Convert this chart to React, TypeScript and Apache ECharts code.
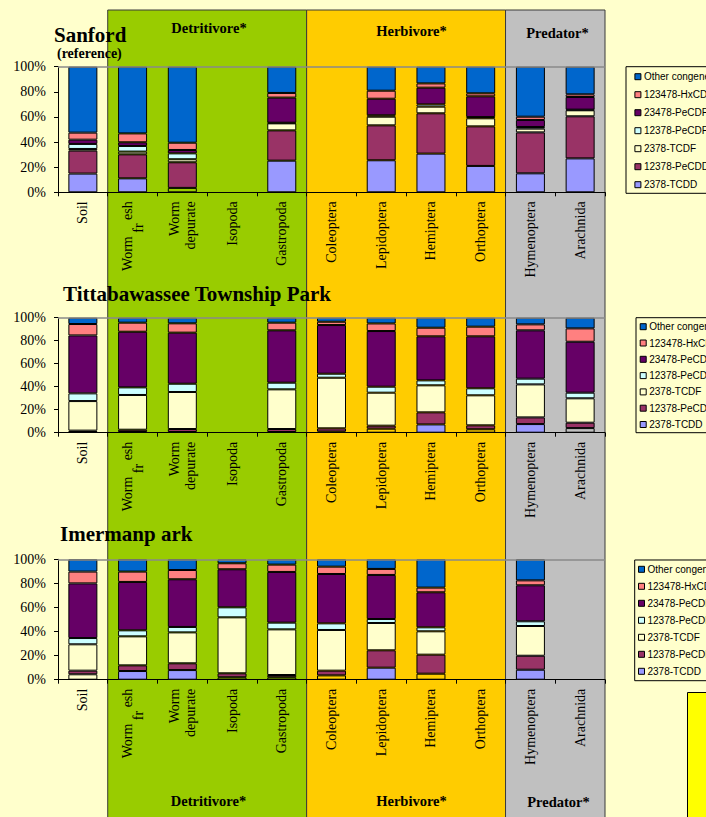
import React, { useEffect, useRef } from "react";
import * as echarts from "echarts";

// ---------- data ----------
const categories = [
  "Soil", "Worm fresh", "Worm depurate", "Isopoda", "Gastropoda",
  "Coleoptera", "Lepidoptera", "Hemiptera", "Orthoptera", "Hymenoptera", "Arachnida",
];
const congeners = [
  "2378-TCDD", "12378-PeCDD", "2378-TCDF", "12378-PeCDF",
  "23478-PeCDF", "123478-HxCDF", "Other congeners",
];
const yTicks = [0, 20, 40, 60, 80, 100];

const groups = ["Detritivore*", "Herbivore*", "Predator*"];
const groupFirst = [1, 5, 9];
const groupLast = [4, 8, 10];

const siteTitles = ["Sanford", "Tittabawassee Township Park", "Imermanp ark"];
const siteSubtitle = "(reference)";

// Sanford (reference) — percent of TEQ
const sanTCDD = [14.9, 11.1, 3.5, null, 25.2, null, 25.5, 30.8, 21.0, 15.1, 27.0];
const sanPeCDD = [18.3, 19.1, 20.4, null, 24.1, null, 27.8, 32.1, 31.5, 32.6, 33.5];
const sanTCDF = [1.3, 2.2, 2.4, null, 5.6, null, 6.9, 5.3, 6.4, 3.0, 4.8];
const san12PeCDF = [4.0, 4.5, 4.7, null, 0.5, null, 1.1, 1.8, 1.0, 1.3, 0.5];
const san23PeCDF = [3.4, 2.9, 2.7, null, 20.0, null, 13.2, 13.3, 16.5, 5.6, 10.1];
const sanHxCDF = [5.6, 7.1, 5.8, null, 3.7, null, 6.4, 3.4, 2.4, 2.6, 2.1];
const sanOther = [52.5, 53.1, 60.5, null, 20.9, null, 19.1, 13.3, 21.2, 39.8, 22.0];
const sanTCDDHidden = [false, false, true, false, false, false, false, false, false, false, false];

// Tittabawassee Township Park
const titTCDD = [0.6, 0.6, 0.6, null, 0.6, 1.0, 3.5, 7.2, 3.0, 7.5, 4.0];
const titPeCDD = [1.2, 2.0, 2.6, null, 2.6, 2.8, 2.6, 10.5, 3.4, 5.8, 4.7];
const titTCDF = [25.7, 30.2, 32.2, null, 34.5, 44.0, 28.7, 23.5, 26.1, 28.7, 21.2];
const tit12PeCDF = [6.7, 6.6, 7.2, null, 5.8, 3.5, 5.2, 4.3, 6.1, 5.0, 4.9];
const tit23PeCDF = [50.4, 48.4, 44.4, null, 45.5, 42.3, 48.4, 38.3, 45.2, 42.0, 44.3];
const titHxCDF = [9.9, 7.9, 8.1, null, 6.7, 2.9, 6.6, 7.5, 8.4, 5.2, 11.6];
const titOther = [5.5, 4.3, 4.9, null, 4.3, 3.5, 5.0, 8.7, 7.8, 5.8, 9.3];
const titTCDDHidden = [false, false, false, false, false, false, true, false, true, false, true];

// Imerman park
const imeTCDD = [4.5, 7.2, 8.0, 2.0, 2.0, 3.6, 10.0, 5.0, null, 8.3, null];
const imePeCDD = [3.0, 4.7, 5.6, 3.3, 1.9, 3.9, 14.4, 15.8, null, 11.6, null];
const imeTCDF = [21.9, 24.1, 25.7, 46.5, 37.9, 33.8, 22.7, 19.4, null, 24.7, null];
const ime12PeCDF = [5.2, 5.0, 4.5, 8.3, 5.6, 5.5, 3.3, 3.3, null, 3.9, null];
const ime23PeCDF = [45.4, 40.2, 39.6, 31.6, 42.1, 41.0, 36.6, 29.1, null, 29.9, null];
const imeHxCDF = [9.8, 8.6, 7.7, 5.0, 6.1, 6.1, 5.0, 3.9, null, 4.1, null];
const imeOther = [10.2, 10.2, 8.9, 3.3, 4.4, 6.1, 8.0, 23.5, null, 17.5, null];
const imeTCDDHidden = [true, false, false, true, true, true, false, true, false, false, false];

const siteSeries = [
  [sanTCDD, sanPeCDD, sanTCDF, san12PeCDF, san23PeCDF, sanHxCDF, sanOther],
  [titTCDD, titPeCDD, titTCDF, tit12PeCDF, tit23PeCDF, titHxCDF, titOther],
  [imeTCDD, imePeCDD, imeTCDF, ime12PeCDF, ime23PeCDF, imeHxCDF, imeOther],
];
const siteHidden = [sanTCDDHidden, titTCDDHidden, imeTCDDHidden];

// ---------- styles / layout ----------
const COLORS = ["#9999FF", "#993366", "#FFFFCC", "#CCFFFF", "#660066", "#FF8080", "#0066CC"];
const BAND_COLORS = ["#99CC00", "#FFCC00", "#C0C0C0"];
const PAGE_BG = "#FFFFCC";
const SERIF = '"Liberation Serif", "Times New Roman", serif';
const SANS = '"Liberation Sans", Arial, sans-serif';
const PLOT_LEFT = 58;
const PLOT_RIGHT = 605;
const PLOT_W = PLOT_RIGHT - PLOT_LEFT;
const CAT_W = PLOT_W / categories.length;
const PANELS = [
  { top: 66.7, height: 125.6, title: { x: 54, y: 35 }, legend: { left: 626, top: 66.7, gap: 6, pad: [4, 40, 2.6, 8.4] } },
  { top: 317.7, height: 115, title: { x: 63, y: 293.5 }, legend: { left: 636, top: 317.7, gap: 4.3, pad: [3, 40, 2.2, 3.7] } },
  { top: 559.3, height: 120.4, title: { x: 60, y: 534 }, legend: { left: 634.7, top: 560, gap: 5, pad: [3.3, 40, 3.4, 3.3] } },
];
const GROUP_TOP_LABEL = [{ x: 209, y: 28 }, { x: 411.5, y: 30.5 }, { x: 557.5, y: 32.5 }];
const GROUP_BOTTOM_LABEL = [{ x: 208.5, y: 801 }, { x: 411.5, y: 801 }, { x: 558.5, y: 801.5 }];

function textEl(text: string, x: number, y: number, font: string, align = "left") {
  return {
    type: "text",
    x,
    y,
    z: 20,
    silent: true,
    style: {
      text,
      font,
      fill: "#000",
      align,
      textAlign: align,
      verticalAlign: "middle",
      textVerticalAlign: "middle",
    },
  };
}

function buildOption() {
  const grids = PANELS.map((p) => ({ left: PLOT_LEFT, width: PLOT_W, top: p.top, height: p.height }));

  const xAxes = PANELS.map((_, i) => ({
    type: "category",
    gridIndex: i,
    data: categories,
    axisLine: { show: true, lineStyle: { color: "#000", width: 1 } },
    axisTick: { show: true, length: 4, lineStyle: { color: "#000" } },
    axisLabel: {
      rotate: 90,
      interval: 0,
      margin: 9,
      color: "#000",
      fontFamily: SERIF,
      fontSize: 14,
      lineHeight: 16,
      formatter: (v: string) => {
        if (v === "Worm fresh") return "{a|Worm }{b|fr}{a| esh}";
        if (v === "Worm depurate") return "Worm\ndepurate";
        return v;
      },
      rich: {
        a: { fontFamily: SERIF, fontSize: 14, color: "#000", verticalAlign: "top", lineHeight: 14 },
        b: { fontFamily: SERIF, fontSize: 14, color: "#000", verticalAlign: "bottom", lineHeight: 25 },
      },
    },
    splitLine: { show: false },
  }));

  const yAxes = PANELS.map((_, i) => ({
    type: "value",
    gridIndex: i,
    min: yTicks[0],
    max: yTicks[yTicks.length - 1],
    interval: yTicks[1] - yTicks[0],
    axisLine: { show: true, lineStyle: { color: "#000", width: 1 } },
    axisTick: { show: true, length: 4, lineStyle: { color: "#000" } },
    axisLabel: { formatter: "{value}%", margin: 12, color: "#000", fontFamily: SERIF, fontSize: 14 },
    splitLine: { show: false },
  }));

  const series: any[] = [];
  siteSeries.forEach((rows, si) => {
    rows.forEach((vals, ci) => {
      const data = vals.map((v, k) => {
        if (v === null) return null;
        if (ci === 0 && siteHidden[si][k]) {
          return { value: v, itemStyle: { color: "rgba(0,0,0,0)" } };
        }
        return v;
      });
      const s: any = {
        type: "bar",
        name: congeners[ci],
        stack: "site" + si,
        xAxisIndex: si,
        yAxisIndex: si,
        barWidth: 29,
        itemStyle: { color: COLORS[ci], borderColor: "#000", borderWidth: 1 },
        emphasis: { disabled: true },
        data,
      };
      if (ci === rows.length - 1) {
        s.markLine = {
          silent: true,
          symbol: "none",
          label: { show: false },
          lineStyle: { color: "#8a8a8a", type: "solid", width: 1.5 },
          data: [{ yAxis: yTicks[yTicks.length - 1] }],
        };
      }
      series.push(s);
    });
  });

  const legendNames = [...congeners].reverse();
  const legends = PANELS.map((p) => ({
    orient: "vertical",
    left: p.legend.left,
    top: p.legend.top,
    data: legendNames,
    icon: "rect",
    itemWidth: 6,
    itemHeight: 6,
    itemGap: p.legend.gap,
    padding: p.legend.pad,
    borderColor: "#000",
    borderWidth: 1,
    backgroundColor: PAGE_BG,
    selectedMode: false,
    itemStyle: { borderColor: "#000", borderWidth: 1 },
    textStyle: { fontFamily: SANS, fontSize: 10, lineHeight: 12, color: "#000", padding: [0, 0, 0, -2] },
  }));

  const graphics: any[] = [];
  groups.forEach((g, gi) => {
    const x0 = PLOT_LEFT + groupFirst[gi] * CAT_W;
    const w = (groupLast[gi] - groupFirst[gi] + 1) * CAT_W;
    graphics.push({
      type: "rect",
      z: -10,
      silent: true,
      shape: { x: x0, y: 10, width: w, height: 830 },
      style: { fill: BAND_COLORS[gi], stroke: "#3a3a3a", lineWidth: 1 },
    });
    graphics.push(textEl(g, GROUP_TOP_LABEL[gi].x, GROUP_TOP_LABEL[gi].y, `bold 14.5px ${SERIF}`, "center"));
    graphics.push(textEl(g, GROUP_BOTTOM_LABEL[gi].x, GROUP_BOTTOM_LABEL[gi].y, `bold 14.5px ${SERIF}`, "center"));
  });
  PANELS.forEach((p, i) => {
    graphics.push(textEl(siteTitles[i], p.title.x, p.title.y, `bold 21px ${SERIF}`));
  });
  graphics.push(textEl(siteSubtitle, 57, 53, `bold 14px ${SERIF}`));
  graphics.push({
    type: "rect",
    z: 5,
    silent: true,
    shape: { x: 687.5, y: 692.5, width: 40, height: 140 },
    style: { fill: "#FFFF00", stroke: "#000", lineWidth: 1 },
  });

  return {
    animation: false,
    backgroundColor: PAGE_BG,
    grid: grids,
    xAxis: xAxes,
    yAxis: yAxes,
    legend: legends,
    series,
    graphic: { elements: graphics },
  };
}

export default function App() {
  const ref = useRef<HTMLDivElement>(null);
  useEffect(() => {
    if (!ref.current) return;
    const chart = echarts.init(ref.current, undefined, { renderer: "svg" });
    chart.setOption(buildOption() as any);
    return () => chart.dispose();
  }, []);
  return (
    <div
      ref={ref}
      style={{ position: "fixed", left: 0, top: 0, width: 706, height: 817, background: PAGE_BG }}
    />
  );
}
